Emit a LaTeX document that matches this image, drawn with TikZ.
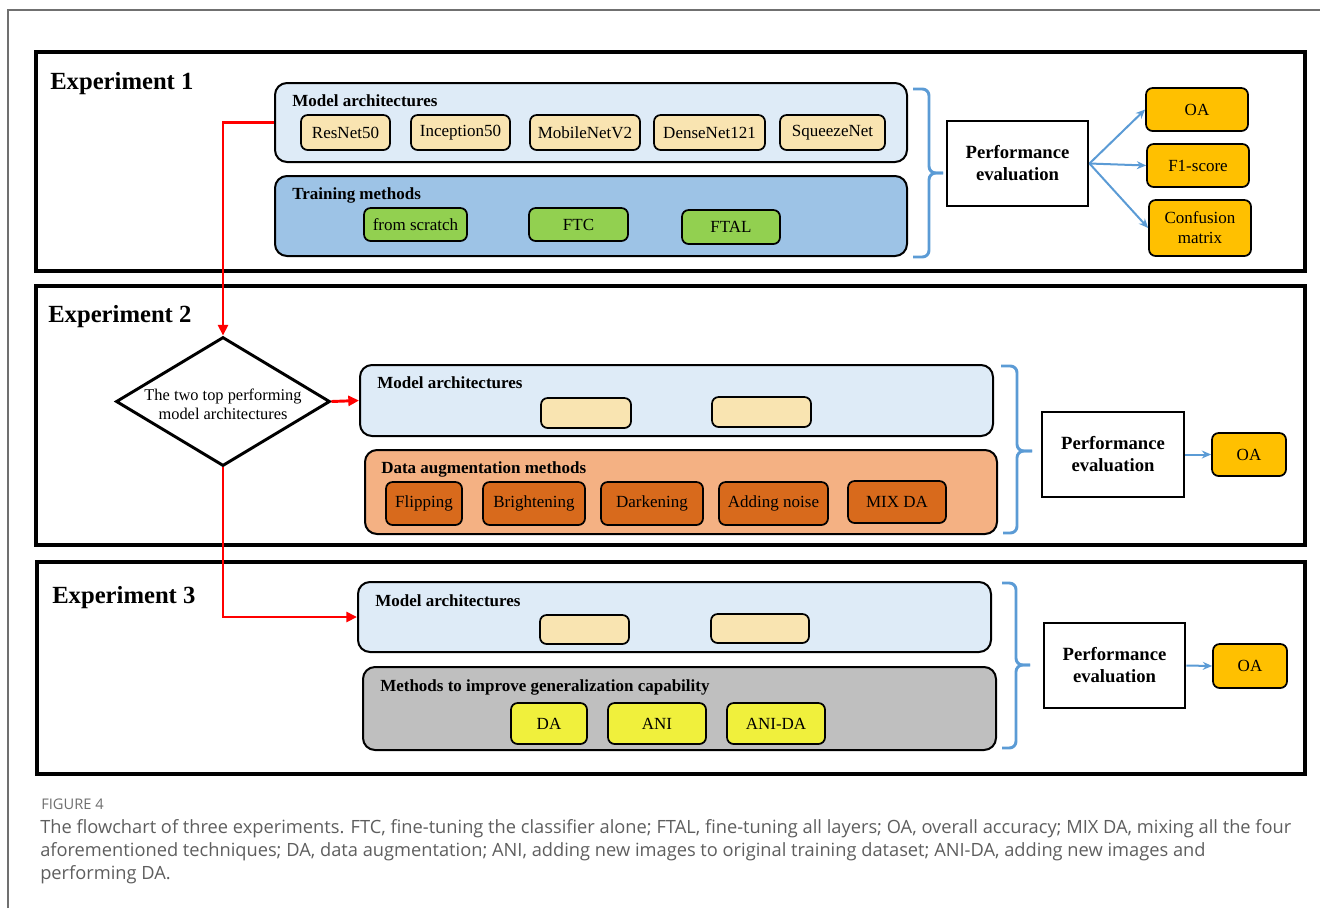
\documentclass[tikz,border=0pt]{standalone}
\usepackage{fontspec}
\setmainfont{Liberation Serif}
\newfontfamily\capfont{Open Sans}
\usetikzlibrary{shapes.geometric,fit,arrows.meta}
\definecolor{lightpanel}{HTML}{DEEBF7}
\definecolor{trainpanel}{HTML}{9DC3E6}
\definecolor{modelitem}{HTML}{F9E4B1}
\definecolor{greenitem}{HTML}{92D050}
\definecolor{dapanel}{HTML}{F4B183}
\definecolor{daitem}{HTML}{D86A1C}
\definecolor{graypanel}{HTML}{BFBFBF}
\definecolor{yellowitem}{HTML}{F0F03C}
\definecolor{oaitem}{HTML}{FFC000}
\definecolor{bracecol}{HTML}{5B9BD5}
\definecolor{captext}{HTML}{5E5E5E}
\definecolor{framecol}{HTML}{707070}
% #1 style, #2 name, #3 x1, #4 y1, #5 x2, #6 y2, #7 text  (pixel coordinates)
\newcommand\pxbox[7]{%
  \pgfmathsetmacro\pxbw{(#5-#3)*0.75}%
  \pgfmathsetmacro\pxbh{(#6-#4)*0.75}%
  \node[#1, minimum width=\pxbw pt, minimum height=\pxbh pt] (#2) at ({(#3+#5)/2},{(#4+#6)/2}) {#7};}
\begin{document}
\begin{tikzpicture}[x=0.75pt,y=-0.75pt,
  expbox/.style={draw=black, line width=2.3pt, inner sep=0pt},
  panel/.style={draw=black, line width=1.5pt, rounded corners=9pt, inner sep=0pt},
  item/.style={draw=black, line width=1.3pt, rounded corners=5pt, inner sep=0pt, align=center,
    font=\fontsize{12.75}{15}\selectfont},
  paneltitle/.style={anchor=base west, inner sep=0pt, font=\bfseries\fontsize{12.75}{15}\selectfont},
  explabel/.style={anchor=base west, inner sep=0pt, font=\bfseries\fontsize{18.5}{22}\selectfont},
  perf/.style={draw=black, line width=2.2pt, inner sep=0pt, align=center,
    font=\bfseries\fontsize{14}{16.5}\selectfont},
  redline/.style={draw=red, line width=2.2pt},
  redarrow/.style={redline, -{Triangle[length=8pt,width=7.5pt]}},
  bluearrow/.style={draw=bracecol, line width=1.5pt, -{Stealth[length=7pt,width=6pt]}},
  bracket/.style={draw=bracecol, line width=2.2pt, rounded corners=5pt},
  captionline/.style={anchor=base west, inner sep=0pt, text=captext, font=\capfont\fontsize{13.7}{17}\selectfont}
]
\useasboundingbox (0,0) rectangle (1320,908);
% outer frame
\draw[framecol, line width=0.8pt] (8,908) -- (8,10) -- (1320,10);

% ---------- Experiment 1 ----------
\node[expbox, fit={(36,52) (1305,271)}] (exp1) {};
\node[explabel] (exp1lbl) at (50,89) {Experiment 1};
\node[panel, fill=lightpanel, fit={(275,83) (907,162)}] (ma1) {};
\node[paneltitle] (ma1t) at (292,106) {Model architectures};
\pxbox{item, fill=modelitem}{m1a}{301}{115}{390}{150}{ResNet50}
\pxbox{item, fill=modelitem}{m1b}{411}{115}{510}{150}{Inception50}
\pxbox{item, fill=modelitem}{m1c}{530}{115}{640}{150}{MobileNetV2}
\pxbox{item, fill=modelitem}{m1d}{654}{115}{765}{150}{DenseNet121}
\pxbox{item, fill=modelitem}{m1e}{780}{115}{885}{150}{SqueezeNet}
\node[panel, fill=trainpanel, fit={(275,176) (907,256)}] (tm1) {};
\node[paneltitle] (tm1t) at (292,199) {Training methods};
\pxbox{item, fill=greenitem}{t1a}{364}{208}{467}{241}{from scratch}
\pxbox{item, fill=greenitem}{t1b}{529}{208}{628}{241}{FTC}
\pxbox{item, fill=greenitem}{t1c}{682}{210}{780}{244}{FTAL}
\draw[bracket] (913,89) -- (929,89) -- (929,173) -- (943,173);
\draw[bracket] (913,257) -- (929,257) -- (929,173) -- (943,173);
\pxbox{perf}{pe1}{947}{121}{1088}{206}{Performance\\evaluation}
\pxbox{item, fill=oaitem}{oa1}{1146}{88}{1248}{131}{OA}
\pxbox{item, fill=oaitem}{f11}{1147}{144}{1249}{187}{F1-score}
\pxbox{item, fill=oaitem}{cm1}{1149}{200}{1251}{256}{Confusion\\matrix}
\draw[bluearrow] (pe1.east) -- (oa1.west);
\draw[bluearrow] (pe1.east) -- (f11.west);
\draw[bluearrow] (pe1.east) -- (cm1.west);

% ---------- Experiment 2 ----------
\node[expbox, fit={(36,286) (1305,545)}] (exp2) {};
\node[explabel] (exp2lbl) at (48,322) {Experiment 2};
\node[diamond, draw=black, line width=2.2pt, inner sep=0pt, minimum width=160.5pt, minimum height=96.75pt] (dia) at (223,401.5) {};
\node[align=center, inner sep=0pt, font=\fontsize{12.3}{14.3}\selectfont] (diat) at (223,404) {The two top performing\\model architectures};
\node[panel, fill=lightpanel, fit={(360,365) (993,436)}] (ma2) {};
\node[paneltitle] (ma2t) at (377,388) {Model architectures};
\pxbox{item, fill=modelitem}{m2a}{541}{398}{631}{428}{}
\pxbox{item, fill=modelitem}{m2b}{712}{397}{811}{427}{}
\node[panel, fill=dapanel, fit={(365,450) (997,534)}] (da2) {};
\node[paneltitle] (da2t) at (381,473) {Data augmentation methods};
\pxbox{item, fill=daitem}{d2a}{386}{482}{462}{525}{Flipping}
\pxbox{item, fill=daitem}{d2b}{483}{482}{585}{525}{Brightening}
\pxbox{item, fill=daitem}{d2c}{601}{482}{703}{525}{Darkening}
\pxbox{item, fill=daitem}{d2d}{719}{482}{828}{525}{Adding noise}
\pxbox{item, fill=daitem}{d2e}{848}{481}{946}{523}{MIX DA}
\draw[bracket] (1001,366) -- (1017,366) -- (1017,451) -- (1032,451);
\draw[bracket] (1003,533) -- (1017,533) -- (1017,451) -- (1032,451);
\pxbox{perf}{pe2}{1042}{412}{1184}{497}{Performance\\evaluation}
\pxbox{item, fill=oaitem}{oa2}{1212}{433}{1286}{476}{OA}
\draw[bluearrow] (pe2.east) -- (oa2.west);

% ---------- Experiment 3 ----------
\node[expbox, fit={(37,562) (1305,774)}] (exp3) {};
\node[explabel] (exp3lbl) at (52,603) {Experiment 3};
\node[panel, fill=lightpanel, fit={(358,582) (991,652)}] (ma3) {};
\node[paneltitle] (ma3t) at (375,606) {Model architectures};
\pxbox{item, fill=modelitem}{m3a}{540}{615}{629}{644}{}
\pxbox{item, fill=modelitem}{m3b}{711}{614}{809}{643}{}
\node[panel, fill=graypanel, fit={(363,667) (996,750)}] (gc3) {};
\node[paneltitle] (gc3t) at (380,691) {Methods to improve generalization capability};
\pxbox{item, fill=yellowitem}{g3a}{511}{703}{587}{744}{DA}
\pxbox{item, fill=yellowitem}{g3b}{608}{703}{706}{744}{ANI}
\pxbox{item, fill=yellowitem}{g3c}{727}{703}{825}{744}{ANI-DA}
\draw[bracket] (1002,583) -- (1016,583) -- (1016,665) -- (1030,665);
\draw[bracket] (1002,748) -- (1016,748) -- (1016,665) -- (1030,665);
\pxbox{perf}{pe3}{1044}{623}{1185}{708}{Performance\\evaluation}
\pxbox{item, fill=oaitem}{oa3}{1213}{644}{1287}{688}{OA}
\draw[bluearrow] (pe3.east) -- (oa3.west);

% ---------- red flow ----------
\draw[redarrow] (ma1.west) -| (dia.north);
\draw[redarrow] (dia.east) -- (ma2.west);
\draw[redarrow] (dia.south) |- (ma3.west);

% ---------- caption ----------
\node[captionline, font=\capfont\fontsize{11}{12}\selectfont, text=captext!90] (figlbl) at (41,809) {FIGURE 4};
\node[captionline] (cap1) at (40,833) {The flowchart of three experiments. FTC, fine-tuning the classifier alone; FTAL, fine-tuning all layers; OA, overall accuracy; MIX DA, mixing all the four};
\node[captionline] (cap2) at (40,856) {aforementioned techniques; DA, data augmentation; ANI, adding new images to original training dataset; ANI-DA, adding new images and};
\node[captionline] (cap3) at (40,879) {performing DA.};
\end{tikzpicture}
\end{document}
